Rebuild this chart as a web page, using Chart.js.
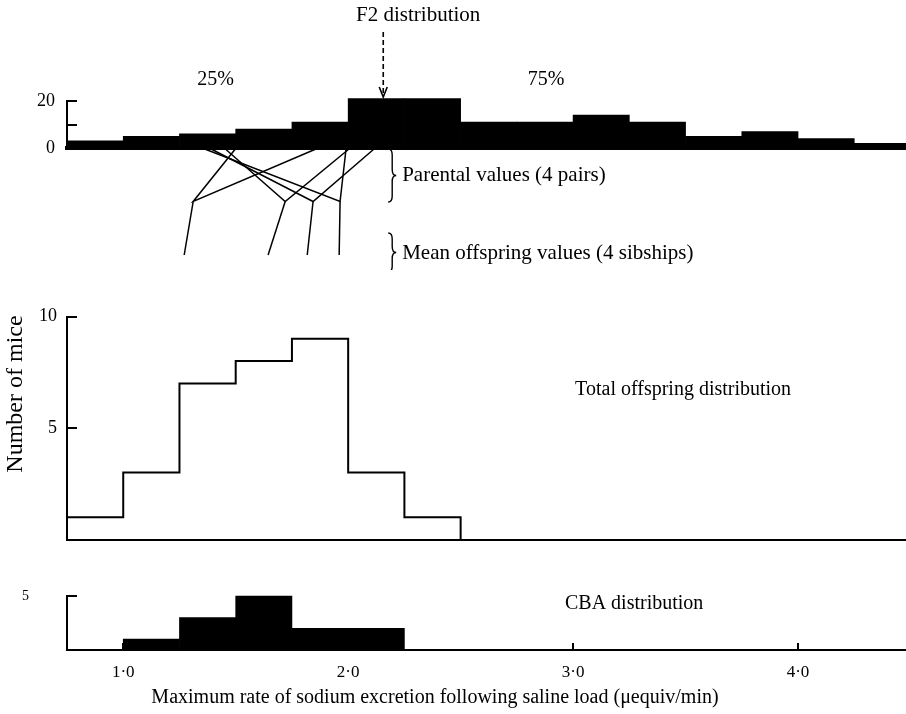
<!DOCTYPE html>
<html>
<head>
<meta charset="utf-8">
<script src="https://cdn.jsdelivr.net/npm/chart.js@4.4.1/dist/chart.umd.min.js"></script>
<style>
  html, body { margin: 0; padding: 0; background: #ffffff; }
  #wrap { position: relative; width: 906px; height: 714px; overflow: hidden; background: #fff; }
  #wrap canvas { position: absolute; left: 0; }
</style>
</head>
<body>
<div id="wrap">
  <canvas id="cF2" width="906" height="175" style="top:0px;width:906px;height:175px"></canvas>
  <canvas id="cLines" width="906" height="130" style="top:140px;width:906px;height:130px"></canvas>
  <canvas id="cOff" width="906" height="275" style="top:290px;width:906px;height:275px"></canvas>
  <canvas id="cCBA" width="906" height="184" style="top:530px;width:906px;height:184px"></canvas>
</div>
<script>
// ---------------- DATA ----------------
// F2 distribution (bins of 0.25 µequiv/min, start values)
const f2BinStarts = [0.75, 1.0, 1.25, 1.5, 1.75, 2.0, 2.25, 2.5, 2.75, 3.0, 3.25, 3.5, 3.75, 4.0, 4.25];
const f2Counts    = [3, 5, 6, 8, 11, 21, 21, 11, 11, 14, 11, 5, 7, 4, 2];
const f2YTicks    = [0, 10, 20];
const f2YLabels   = ['0', '', '20'];

// Parental pairs -> mean offspring (4 pairs)
const parentLeft    = [1.502, 1.449, 1.382, 1.351];
const parentRight   = [1.867, 2.009, 2.120, 1.991];
const pairJoin      = [1.311, 1.720, 1.844, 1.964];
const offspringMean = [1.271, 1.644, 1.818, 1.960];
const levelParent = 2, levelJoin = 1, levelOffspring = 0;

// Total offspring distribution (bin edges and counts)
const offBinEdges = [0.75, 1.0, 1.25, 1.5, 1.75, 2.0, 2.25, 2.5];
const offCounts   = [1, 3, 7, 8, 9, 3, 1];
const offYTicks   = [5, 10];
const offYLabels  = ['5', '10'];

// CBA distribution
const cbaBinStarts = [1.0, 1.25, 1.5, 1.75, 2.0];
const cbaCounts    = [1, 3, 5, 2, 2];
const cbaYTicks    = [5];
const cbaYLabels   = ['5'];

// x axis ticks
const xTickValues = [1, 2, 3, 4];
const xTickLabels = ['1\u00b70', '2\u00b70', '3\u00b70', '4\u00b70'];
const BIN = 0.25;

// ---------------- STYLE ----------------
const SERIF = '"Liberation Serif", "Times New Roman", "DejaVu Serif", serif';
const X_MIN = 0.75, X_MAX = 4.48, AXIS_W = 67;
Chart.defaults.font.family = SERIF;
Chart.defaults.color = '#000';

function xScale(extra) {
  return Object.assign({
    type: 'linear', min: X_MIN, max: X_MAX, offset: false,
    grid: { display: false, drawTicks: false },
    ticks: { display: false },
    border: { display: true, color: '#000', width: 2 },
    afterFit: s => { s.height = 0; }
  }, extra || {});
}
function yScale(min, max, vals, labels, size, pad) {
  return {
    type: 'linear', min: min, max: max,
    grid: { display: false, drawTicks: false },
    border: { display: true, color: '#000', width: 2 },
    afterBuildTicks: s => { s.ticks = vals.map(v => ({ value: v })); },
    ticks: {
      padding: pad, color: '#000', font: { family: SERIF, size: size },
      callback: (v, i) => labels[i]
    },
    afterFit: s => { s.width = AXIS_W; }
  };
}

// inward tick marks on y axis, upward tick marks on x axis
const tickMarks = {
  id: 'tickMarks',
  afterDraw(chart, args, o) {
    const ctx = chart.ctx, xs = chart.scales.x, ys = chart.scales.y;
    ctx.save();
    ctx.strokeStyle = '#000';
    ctx.lineWidth = 2;
    (o.yValues || []).forEach(v => {
      const py = Math.round(ys.getPixelForValue(v));
      ctx.beginPath(); ctx.moveTo(xs.left, py); ctx.lineTo(xs.left + o.yLen, py); ctx.stroke();
    });
    (o.xValues || []).forEach(v => {
      const px = Math.round(xs.getPixelForValue(v));
      ctx.beginPath(); ctx.moveTo(px, ys.bottom); ctx.lineTo(px, ys.bottom - o.xLen); ctx.stroke();
    });
    ctx.restore();
  }
};

function brace(ctx, x, y1, y2, w) {
  const ym = (y1 + y2) / 2, r = Math.min(6, (y2 - y1) / 6);
  const xm = x + w * 0.5;
  ctx.beginPath();
  ctx.moveTo(x, y1);
  ctx.quadraticCurveTo(xm, y1, xm, y1 + r);
  ctx.lineTo(xm, ym - r);
  ctx.quadraticCurveTo(xm, ym, x + w, ym);
  ctx.quadraticCurveTo(xm, ym, xm, ym + r);
  ctx.lineTo(xm, y2 - r);
  ctx.quadraticCurveTo(xm, y2, x, y2);
  ctx.stroke();
}

// text / decoration notes, y given in page coordinates
const notes = {
  id: 'notes',
  afterDraw(chart, args, o) {
    const ctx = chart.ctx, xs = chart.scales.x, top = o.top || 0;
    ctx.save();
    ctx.fillStyle = '#000';
    ctx.strokeStyle = '#000';
    ctx.textBaseline = 'middle';
    (o.items || []).forEach(it => {
      const px = it.px !== undefined ? it.px : xs.getPixelForValue(it.x);
      const py = it.y - top;
      if (it.kind === 'brace') {
        ctx.lineWidth = 1.4;
        brace(ctx, px, it.y1 - top, it.y2 - top, it.w);
      } else if (it.kind === 'arrow') {
        ctx.lineWidth = 1.6;
        ctx.setLineDash([5, 3]);
        ctx.beginPath(); ctx.moveTo(px, it.y1 - top); ctx.lineTo(px, it.y2 - top - 2); ctx.stroke();
        ctx.setLineDash([]);
        ctx.beginPath();
        ctx.moveTo(px - 4, it.y2 - top - 10); ctx.lineTo(px, it.y2 - top); ctx.lineTo(px + 4, it.y2 - top - 10);
        ctx.stroke();
      } else {
        ctx.font = (it.size || 19) + 'px ' + SERIF;
        ctx.textAlign = it.align || 'left';
        if (it.rotate) {
          ctx.save(); ctx.translate(px, py); ctx.rotate(it.rotate);
          ctx.fillText(it.text, 0, 0); ctx.restore();
        } else {
          ctx.fillText(it.text, px, py);
        }
      }
    });
    ctx.restore();
  }
};

const common = {
  responsive: false, animation: false, devicePixelRatio: 1,
  events: []
};
const noLegend = { legend: { display: false }, tooltip: { enabled: false } };

// ---------------- TOP: F2 distribution ----------------
new Chart(document.getElementById('cF2'), {
  type: 'bar',
  data: {
    datasets: [{
      data: f2BinStarts.map((s, i) => ({ x: s + BIN / 2, y: f2Counts[i] })),
      backgroundColor: '#000', borderWidth: 0,
      barPercentage: 1.0, categoryPercentage: 1.0, clip: false
    }]
  },
  options: Object.assign({}, common, {
    layout: { padding: { top: 101, bottom: 27, left: 0, right: 0 } },
    scales: {
      x: xScale({ border: { display: true, color: '#000', width: 4 } }),
      y: yScale(0, 20, f2YTicks, f2YLabels, 18, 12)
    },
    plugins: Object.assign({}, noLegend, {
      tickMarks: { yValues: [10, 20], yLen: 10 },
      notes: {
        top: 0,
        items: [
          { text: 'F2 distribution', x: 2.035, y: 15, size: 21 },
          { kind: 'arrow', x: 2.156, y1: 32, y2: 97 },
          { text: '25%', x: 1.41, y: 80, size: 20, align: 'center' },
          { text: '75%', x: 2.88, y: 80, size: 20, align: 'center' }
        ]
      }
    })
  }),
  plugins: [tickMarks, notes]
});

// ---------------- LINES: parents -> offspring ----------------
const lineSets = [];
parentLeft.forEach((l, i) => {
  lineSets.push({
    data: [{ x: l, y: levelParent }, { x: pairJoin[i], y: levelJoin }, { x: parentRight[i], y: levelParent }]
  });
  lineSets.push({
    data: [{ x: pairJoin[i], y: levelJoin }, { x: offspringMean[i], y: levelOffspring }]
  });
});
lineSets.forEach(d => Object.assign(d, {
  showLine: true, borderColor: '#000', borderWidth: 1.5, pointRadius: 0, fill: false, clip: false
}));
new Chart(document.getElementById('cLines'), {
  type: 'scatter',
  data: { datasets: lineSets },
  options: Object.assign({}, common, {
    layout: { padding: { top: 8, bottom: 15, left: AXIS_W, right: 0 } },
    scales: {
      x: { type: 'linear', display: false, min: X_MIN, max: X_MAX },
      y: { type: 'linear', display: false, min: levelOffspring, max: levelParent }
    },
    plugins: Object.assign({}, noLegend, {
      notes: {
        top: 140,
        items: [
          { kind: 'brace', x: 2.178, y1: 149, y2: 202, w: 8 },
          { text: 'Parental values (4 pairs)', x: 2.24, y: 175, size: 21 },
          { kind: 'brace', x: 2.178, y1: 233, y2: 272, w: 8 },
          { text: 'Mean offspring values (4 sibships)', x: 2.24, y: 253, size: 21 }
        ]
      }
    })
  }),
  plugins: [notes]
});

// ---------------- MIDDLE: total offspring ----------------
const offPoints = offBinEdges.map((e, i) => ({ x: e, y: i < offCounts.length ? offCounts[i] : 0 }));
new Chart(document.getElementById('cOff'), {
  type: 'line',
  data: {
    datasets: [{
      data: offPoints, stepped: true, borderColor: '#000', borderWidth: 2,
      pointRadius: 0, fill: false, clip: false
    }]
  },
  options: Object.assign({}, common, {
    layout: { padding: { top: 26.5, bottom: 25.5, left: 0, right: 0 } },
    scales: {
      x: xScale(),
      y: yScale(0, 10, offYTicks, offYLabels, 18, 10)
    },
    plugins: Object.assign({}, noLegend, {
      tickMarks: { yValues: [5, 10], yLen: 10 },
      notes: {
        top: 290,
        items: [
          { text: 'Total offspring distribution', x: 3.009, y: 390, size: 20 },
          { text: 'Number of mice', px: 16, y: 394, size: 24, align: 'center', rotate: -Math.PI / 2 }
        ]
      }
    })
  }),
  plugins: [tickMarks, notes]
});

// ---------------- BOTTOM: CBA ----------------
new Chart(document.getElementById('cCBA'), {
  type: 'bar',
  data: {
    datasets: [{
      data: cbaBinStarts.map((s, i) => ({ x: s + BIN / 2, y: cbaCounts[i] })),
      backgroundColor: '#000', borderWidth: 0,
      barPercentage: 1.0, categoryPercentage: 1.0, clip: false
    }]
  },
  options: Object.assign({}, common, {
    layout: { padding: { top: 66, bottom: 0, left: 0, right: 0 } },
    scales: {
      x: xScale({
        ticks: {
          display: true, padding: 12, color: '#000', maxRotation: 0,
          font: { family: SERIF, size: 17 },
          callback: (v, i) => xTickLabels[i]
        },
        afterBuildTicks: s => { s.ticks = xTickValues.map(v => ({ value: v })); },
        afterFit: s => { s.height = 64; }
      }),
      y: yScale(0, 5, cbaYTicks, cbaYLabels, 14, 38)
    },
    plugins: Object.assign({}, noLegend, {
      tickMarks: { yValues: [5], yLen: 10, xValues: xTickValues, xLen: 7 },
      notes: {
        top: 530,
        items: [
          { text: 'CBA distribution', x: 2.964, y: 604, size: 20 },
          { text: 'Maximum rate of sodium excretion following saline load (\u03bcequiv/min)', px: 435, y: 698, size: 20, align: 'center' }
        ]
      }
    })
  }),
  plugins: [tickMarks, notes]
});
</script>
</body>
</html>
